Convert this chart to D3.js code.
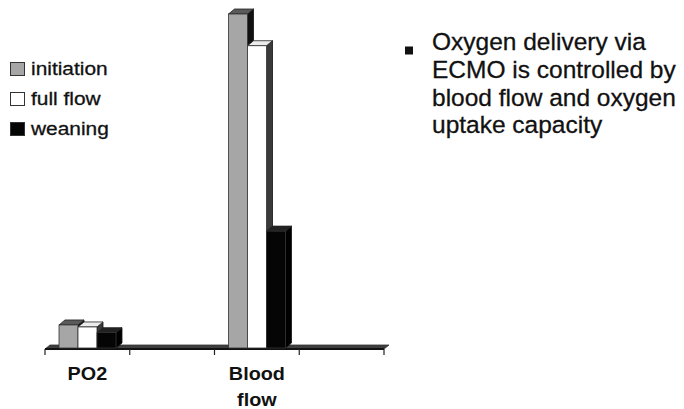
<!DOCTYPE html>
<html><head><meta charset="utf-8">
<script src="https://cdn.jsdelivr.net/npm/d3@7"></script>
<style>html,body{margin:0;padding:0;background:#fff}svg{display:block}</style>
</head><body>
<svg id="c" width="684" height="409"></svg>
<script>
const categories = ["PO2", "", "Blood flow", ""];
const seriesNames = ["initiation", "full flow", "weaning"];
const initiation = [6.9, null, 100, null];
const fullFlow = [6.3, null, 90.5, null];
const weaning = [4.6, null, 35, null];
const noteLines = ["Oxygen delivery via", "ECMO is controlled by", "blood flow and oxygen", "uptake capacity"];

const seriesValues = [initiation, fullFlow, weaning];
const frontFill = ["#a6a6a6", "#ffffff", "#050505"];
const topFill = ["#5a5a5a", "#ececec", "#222"];
const sideFill = ["#111", "#3a3a3a", "#000"];

const svg = d3.select("#c");
const base = 348, dx = 6, dy = 5;
const x = d3.scaleBand().domain(d3.range(categories.length)).range([45, 384]).paddingInner(0).paddingOuter(0);
const inner = d3.scaleBand().domain(d3.range(seriesNames.length)).range([14, 14 + 57]);
const y = d3.scaleLinear().domain([0, 100]).range([base, 14]);

// floor
const x0 = x.range()[0], x1 = x.range()[1];
svg.append("polygon")
  .attr("points", [[x0, base + 1], [x1, base + 1], [x1 + 5, base - 3], [x0 + 5, base - 3]].join(" "))
  .attr("fill", "#3e3e3e").attr("stroke", "#333").attr("stroke-width", 0.8);
svg.append("line").attr("x1", x0).attr("x2", x1).attr("y1", base + 1).attr("y2", base + 1)
  .attr("stroke", "#111").attr("stroke-width", 2);
// ticks
const tickPos = categories.map((d, i) => x(i)).concat([x1]);
svg.selectAll("line.tk").data(tickPos).enter().append("line").attr("class", "tk")
  .attr("x1", d => d).attr("x2", d => d).attr("y1", base + 1).attr("y2", base + 7)
  .attr("stroke", "#222").attr("stroke-width", 1.2);

// bars
categories.forEach((c, i) => {
  seriesValues.forEach((arr, s) => {
    const v = arr[i];
    if (v == null) return;
    const bx = x(i) + inner(s), bw = inner.bandwidth(), ty = y(v);
    const g = svg.append("g");
    g.append("polygon").attr("points", [[bx + bw, ty], [bx + bw + dx, ty - dy], [bx + bw + dx, base - dy], [bx + bw, base]].join(" "))
      .attr("fill", sideFill[s]).attr("stroke", "#111").attr("stroke-width", 0.8);
    g.append("polygon").attr("points", [[bx, ty], [bx + dx, ty - dy], [bx + bw + dx, ty - dy], [bx + bw, ty]].join(" "))
      .attr("fill", topFill[s]).attr("stroke", "#222").attr("stroke-width", 0.8);
    g.append("rect").attr("x", bx).attr("y", ty).attr("width", bw).attr("height", base - ty)
      .attr("fill", frontFill[s]).attr("stroke", "#333").attr("stroke-width", 0.8);
  });
});

const font = "Liberation Sans, Arial, sans-serif";
// category labels
categories.forEach((c, i) => {
  if (!c) return;
  const words = c.split(" ");
  const cx = x(i) + x.bandwidth() / 2;
  words.forEach((w, k) => {
    svg.append("text").attr("transform", `translate(${cx},${380 + k * 26}) scale(1.1,1)`)
      .attr("text-anchor", "middle").attr("font-family", font)
      .attr("font-weight", "bold").attr("font-size", 18).attr("fill", "#111").text(w);
  });
});

// legend
const lg = svg.append("g");
seriesNames.forEach((n, s) => {
  const ly = 62 + s * 30;
  lg.append("rect").attr("x", 10.5).attr("y", ly + 0.5).attr("width", 14).attr("height", 13)
    .attr("fill", frontFill[s]).attr("stroke", "#333").attr("stroke-width", 1);
  lg.append("text").attr("transform", `translate(31,${ly + 13}) scale(1.13,1)`)
    .attr("font-family", font).attr("font-size", 18.5).attr("fill", "#111")
    .attr("stroke", "#111").attr("stroke-width", 0.3).text(n);
});

// bullet note
svg.append("rect").attr("x", 405).attr("y", 46.5).attr("width", 8).attr("height", 8).attr("fill", "#111");
noteLines.forEach((t, k) => {
  svg.append("text").attr("x", 432).attr("y", 50 + k * 27.8)
    .attr("font-family", font).attr("font-size", 24.5).attr("fill", "#111")
    .attr("stroke", "#111").attr("stroke-width", 0.3).text(t);
});
</script>
</body></html>
